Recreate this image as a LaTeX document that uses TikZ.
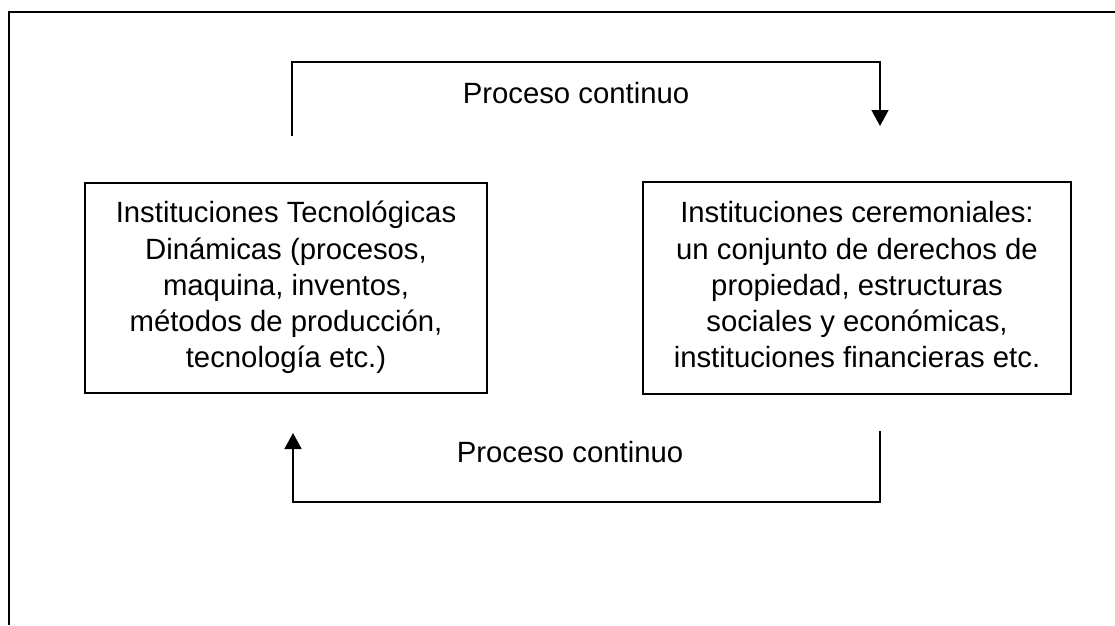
\documentclass[tikz,border=0pt]{standalone}
\usepackage{fontspec}
\setmainfont{Liberation Sans}
\usetikzlibrary{arrows.meta}
\begin{document}
\begin{tikzpicture}[x=1pt,y=-1pt,
  txt/.style={font=\fontsize{29.3}{36.25}\selectfont},
  box/.style={draw,line width=1.5pt,align=center,inner sep=0pt,txt},
  conn/.style={line width=1.6pt},
  arr/.style={conn,-{Triangle[width=17pt,length=16pt]}}]
\useasboundingbox (0,0) rectangle (1115,625);
\draw[line width=2.6pt] (9,625) -- (9,12) -- (1115,12);
\node[box,minimum width=402pt,minimum height=210pt] (tec) at (286,288)
  {\strut Instituciones Tecnológicas\\Dinámicas (procesos,\\maquina, inventos,\\métodos de producción,\\tecnología etc.)\strut};
\node[box,minimum width=428pt,minimum height=212pt] (cer) at (857,288)
  {\strut Instituciones ceremoniales:\\un conjunto de derechos de\\propiedad, estructuras\\sociales y económicas,\\instituciones financieras etc.\strut};
\coordinate (tA) at (292,136);
\coordinate (tB) at (880,126);
\draw[arr] (tA) -- ++(0,-74) -| (tB);
\node[txt,anchor=base,inner sep=0pt] (l1) at (576,103) {Proceso continuo};
\coordinate (bA) at (880,431);
\coordinate (bB) at (293,433);
\draw[arr] (bA) -- ++(0,71) -| (bB);
\node[txt,anchor=base,inner sep=0pt] (l2) at (570,462) {Proceso continuo};
\end{tikzpicture}
\end{document}
